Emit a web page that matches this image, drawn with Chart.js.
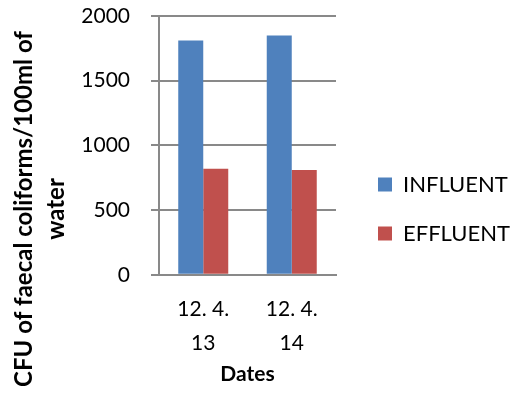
<!DOCTYPE html>
<html>
<head>
<meta charset="utf-8">
<script src="https://cdn.jsdelivr.net/npm/chart.js@4"></script>
<style>
  html, body { margin: 0; padding: 0; background: #fff; }
</style>
</head>
<body>
<canvas id="myChart" width="513" height="396"></canvas>
<script>
// data
const dates = [['12. 4.', '13'], ['12. 4.', '14']];
const influent = [1810, 1850];
const effluent = [820, 810];
const yTicks = [0, 500, 1000, 1500, 2000];

const gridGray = '#898989';

var ctx = document.getElementById('myChart').getContext('2d');
var chart = new Chart(ctx, {
    type: 'bar',
    data: {
        labels: dates,
        datasets: [{
            label: 'INFLUENT',
            backgroundColor: '#4F81BD',
            data: influent
        }, {
            label: 'EFFLUENT',
            backgroundColor: '#C0504D',
            data: effluent
        }]
    },
    options: {
        responsive: false,
        animation: false,
        devicePixelRatio: 1,
        layout: { padding: { top: 16, left: 0, right: 0, bottom: -6 } },
        datasets: {
            bar: { categoryPercentage: 0.565, barPercentage: 1.0 }
        },
        scales: {
            x: {
                grid: { display: true, drawOnChartArea: false, color: 'rgba(0,0,0,0)', drawTicks: true, tickLength: 17 },
                border: { display: true, color: gridGray, width: 2 },
                ticks: {
                    color: '#000', padding: 0, maxRotation: 0,
                    font: { family: 'Lato', size: 21, lineHeight: 1.62 }
                },
                title: {
                    display: true, text: 'Dates', color: '#000',
                    font: { family: 'Lato', size: 21, weight: 'bold', lineHeight: 1.2 },
                    padding: { top: 2, bottom: 15 }
                }
            },
            y: {
                min: 0, max: 2000,
                afterBuildTicks: function (s) { s.ticks = yTicks.map(v => ({ value: v })); },
                // tick marks 8 + padding 21 + widest label; no extra top/bottom overhang
                afterFit: function (s) { s.width = 78; s.paddingTop = 0; s.paddingBottom = 0; },
                grid: { color: gridGray, lineWidth: 2, tickLength: 8 },
                border: { display: true, color: gridGray, width: 2 },
                ticks: {
                    color: '#000', padding: 21,
                    font: { family: 'Lato', size: 21 },
                    callback: function (v) { return String(v); }
                }
            },
            // empty strip between plot and legend
            gap: {
                position: 'right', display: false,
                afterFit: function (s) { s.width = 15; }
            }
        },
        plugins: {
            title: {
                display: true, position: 'left',
                text: ['CFU of faecal coliforms/100ml of', 'water'],
                color: '#000',
                font: { family: 'Lato', size: 24, weight: 'bold', lineHeight: '32px' },
                padding: { top: 8, bottom: 9 }
            },
            legend: {
                position: 'right',
                maxWidth: 162,
                labels: {
                    color: '#000', boxWidth: 14, boxHeight: 14, padding: 27,
                    font: { family: 'Lato', size: 22 }
                }
            },
            tooltip: { enabled: false }
        }
    }
});
</script>
</body>
</html>
